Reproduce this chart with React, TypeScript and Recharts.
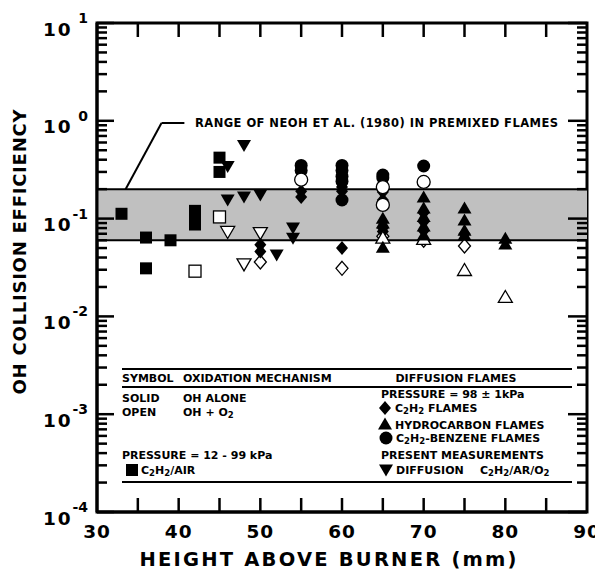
import React from "react";
import {
  ScatterChart,
  Scatter,
  XAxis,
  YAxis,
  ReferenceArea,
  ReferenceLine,
  Customized,
} from "recharts";

type Pt = [number, number];

// height above burner (mm), OH collision efficiency
// C2H2/air flames, 12 - 99 kPa
const airSolid: Pt[] = [[33, 0.112], [36, 0.064], [36, 0.031], [39, 0.06], [42, 0.12], [42, 0.1], [42, 0.087], [45, 0.42], [45, 0.3]];
const airOpen: Pt[] = [[42, 0.029], [45, 0.104]];
// present measurements, diffusion C2H2/Ar/O2
const presentSolid: Pt[] = [[46, 0.34], [46, 0.155], [48, 0.56], [48, 0.166], [50, 0.174], [52, 0.0425], [54, 0.08], [54, 0.063]];
const presentOpen: Pt[] = [[46, 0.073], [48, 0.034], [50, 0.071]];
// C2H2 diffusion flames, 98 kPa
const c2h2Solid: Pt[] = [[50, 0.054], [50, 0.046], [55, 0.19], [55, 0.166], [60, 0.21], [60, 0.19], [60, 0.05], [65, 0.187], [65, 0.155], [65, 0.08], [65, 0.074], [70, 0.115], [70, 0.093], [70, 0.075], [75, 0.07]];
const c2h2Open: Pt[] = [[50, 0.036], [60, 0.031], [65, 0.066], [70, 0.06], [75, 0.0525]];
// hydrocarbon flames
const hcSolid: Pt[] = [[65, 0.101], [65, 0.09], [65, 0.051], [70, 0.166], [70, 0.128], [70, 0.105], [70, 0.084], [70, 0.068], [75, 0.128], [75, 0.097], [75, 0.076], [75, 0.068], [80, 0.063], [80, 0.055]];
const hcOpen: Pt[] = [[65, 0.064], [70, 0.062], [75, 0.0298], [80, 0.0158]];
// C2H2-benzene flames
const benzSolid: Pt[] = [[55, 0.35], [55, 0.31], [60, 0.35], [60, 0.31], [60, 0.27], [60, 0.24], [60, 0.155], [65, 0.279], [65, 0.26], [70, 0.345]];
const benzOpen: Pt[] = [[55, 0.25], [65, 0.21], [65, 0.138], [70, 0.237]];

// Neoh et al. range in premixed flames
const neohRange: [number, number] = [0.06, 0.2];

const xDomain: [number, number] = [30, 90];
const yDomain: [number, number] = [1e-4, 10];
const xTicks = [30, 35, 40, 45, 50, 55, 60, 65, 70, 75, 80, 85, 90];
const xLabels = [30, 40, 50, 60, 70, 80, 90];
const yExponents = [-4, -3, -2, -1, 0, 1];
const yMantissas = [1, 2, 3, 4, 5, 6, 7, 8, 9];

const yTicks: number[] = [];
yExponents.forEach((e) => {
  if (e === 1) yTicks.push(10);
  else yMantissas.forEach((m) => yTicks.push(Number((m * Math.pow(10, e)).toPrecision(3))));
});

const FONT = "'DejaVu Sans', 'Liberation Sans', Arial, sans-serif";

// plot box inside the svg
const W = 595;
const H = 562;
const M = { top: 15, right: 16, left: 89, bottom: 58 };
const PLOT_W = W - M.left - M.right;
const PLOT_H = H - M.top - M.bottom;

// tick lengths given in pixels, turned into data units for the segments
const DECADES = Math.log10(yDomain[1]) - Math.log10(yDomain[0]);
const xUnits = (px: number) => (px / PLOT_W) * (xDomain[1] - xDomain[0]);
const yFactor = (px: number) => Math.pow(10, (px / PLOT_H) * DECADES);

const toRows = (pts: Pt[]) => pts.map(([x, y]) => ({ x, y }));

type Kind = "square" | "circle" | "diamond" | "up" | "down";

function Marker({ kind, open, cx, cy }: { kind: Kind; open?: boolean; cx: number; cy: number }) {
  const fill = open ? "#fff" : "#000";
  const common = { fill, stroke: "#000", strokeWidth: open ? 1.3 : 0 };
  if (kind === "square") return <rect x={cx - 6} y={cy - 6} width={12} height={12} {...common} />;
  if (kind === "circle") return <circle cx={cx} cy={cy} r={6.5} {...common} />;
  if (kind === "diamond")
    return <polygon points={`${cx},${cy - 7} ${cx + 6},${cy} ${cx},${cy + 7} ${cx - 6},${cy}`} {...common} />;
  if (kind === "up")
    return <polygon points={`${cx},${cy - 6.5} ${cx + 7},${cy + 5.5} ${cx - 7},${cy + 5.5}`} {...common} />;
  return <polygon points={`${cx - 7},${cy - 5.5} ${cx + 7},${cy - 5.5} ${cx},${cy + 6.5}`} {...common} />;
}

const shapeOf = (kind: Kind, open = false) => (p: any) =>
  <Marker kind={kind} open={open} cx={p.cx} cy={p.cy} />;

const isMajor = (v: number) => {
  const l = Math.log10(v);
  return Math.abs(l - Math.round(l)) < 1e-6;
};

const LeftTick = (p: any) => {
  const { x, y, payload } = p;
  const v = payload.value;
  if (!isMajor(v)) return <g />;
  const exp = Math.round(Math.log10(v));
  return (
    <g fontFamily={FONT} fontWeight="bold" fill="#000">
      <text x={x - 54} y={y + 6} dominantBaseline="central" fontSize={18.5} letterSpacing={2}>
        10
      </text>
      <text x={x - 9} y={y - 5} dominantBaseline="central" textAnchor="end" fontSize={14}>
        {exp}
      </text>
    </g>
  );
};

const BottomTick = (p: any) => {
  const { x, y, payload } = p;
  const v = payload.value;
  if (!xLabels.includes(v)) return <g />;
  return (
    <text x={x} y={y + 19} textAnchor="middle" dominantBaseline="central" fontFamily={FONT}
      fontWeight="bold" fontSize={18.5} letterSpacing={1} fill="#000">
      {v}
    </text>
  );
};

// inward tick marks on all four sides, as short reference segments
const tickSegments: { key: string; seg: { x: number; y: number }[] }[] = [];
yTicks.forEach((v) => {
  const major = isMajor(v);
  tickSegments.push({ key: "l" + v, seg: [{ x: xDomain[0], y: v }, { x: xDomain[0] + xUnits(major ? 17 : 10), y: v }] });
  tickSegments.push({ key: "r" + v, seg: [{ x: xDomain[1] - xUnits(major ? 19 : 10), y: v }, { x: xDomain[1], y: v }] });
});
xTicks
  .filter((v) => v > xDomain[0] && v < xDomain[1])
  .forEach((v) => {
    tickSegments.push({ key: "b" + v, seg: [{ x: v, y: yDomain[0] }, { x: v, y: yDomain[0] * yFactor(14) }] });
    tickSegments.push({ key: "t" + v, seg: [{ x: v, y: yDomain[1] / yFactor(14) }, { x: v, y: yDomain[1] }] });
  });

// chemical formulas: a digit right after a letter is set as subscript
function chem(s: string) {
  const parts: React.ReactNode[] = [];
  let buf = "";
  let lowered = false;
  for (let i = 0; i < s.length; i++) {
    const ch = s[i];
    const sub = /\d/.test(ch) && i > 0 && /[A-Z]/.test(s[i - 1]);
    if (sub) {
      if (buf) parts.push(<tspan key={i + "n"} dy={lowered ? -3 : 0}>{buf}</tspan>);
      if (buf) lowered = false;
      parts.push(<tspan key={i + "s"} dy={lowered ? 0 : 3} fontSize={8.5}>{ch}</tspan>);
      lowered = true;
      buf = "";
    } else {
      buf += ch;
    }
  }
  if (buf) parts.push(<tspan key="end" dy={lowered ? -3 : 0}>{buf}</tspan>);
  return parts;
}

const Overlay = () => (
  <g fontFamily={FONT} fontWeight="bold" fill="#000" style={{ whiteSpace: "pre" }}>
    <rect x={M.left} y={M.top} width={PLOT_W} height={PLOT_H} fill="none" stroke="#000" strokeWidth={3} />
    <text transform="translate(11,244) rotate(-90)" textAnchor="middle" dominantBaseline="central"
      fontSize={18} textLength={285} lengthAdjust="spacing">
      OH COLLISION EFFICIENCY
    </text>
    <text x={320} y={551} textAnchor="middle" dominantBaseline="central" fontSize={19.5}
      textLength={377} lengthAdjust="spacing">
      HEIGHT ABOVE BURNER (mm)
    </text>
    <text x={187} y={115} dominantBaseline="central" fontSize={11.5} textLength={363} lengthAdjust="spacing">
      RANGE OF NEOH ET AL. (1980)  IN PREMIXED FLAMES
    </text>

    {/* key box */}
    <line x1={114} x2={564} y1={361} y2={361} stroke="#000" strokeWidth={2} />
    <line x1={114} x2={564} y1={379} y2={379} stroke="#000" strokeWidth={2} />
    <line x1={114} x2={564} y1={474} y2={474} stroke="#000" strokeWidth={2} />
    <g fontSize={11} dominantBaseline="central">
      <text x={114} y={370}>SYMBOL</text>
      <text x={175} y={370}>OXIDATION MECHANISM</text>
      <text x={448} y={370} textAnchor="middle">DIFFUSION FLAMES</text>
      <text x={114} y={390}>SOLID</text>
      <text x={175} y={390}>OH ALONE</text>
      <text x={114} y={404}>OPEN</text>
      <text x={175} y={404}>{chem("OH + O2")}</text>
      <text x={114} y={447}>PRESSURE = 12 - 99 kPa</text>
      <text x={133} y={462}>{chem("C2H2/AIR")}</text>
      <text x={373} y={386}>PRESSURE = 98 ± 1kPa</text>
      <text x={387} y={400}>{chem("C2H2 FLAMES")}</text>
      <text x={387} y={417}>HYDROCARBON FLAMES</text>
      <text x={388} y={430}>{chem("C2H2-BENZENE  FLAMES")}</text>
      <text x={373} y={447}>PRESENT MEASUREMENTS</text>
      <text x={388} y={462}>DIFFUSION</text>
      <text x={472} y={462}>{chem("C2H2/AR/O2")}</text>
    </g>
    <Marker kind="square" cx={124} cy={462} />
    <Marker kind="diamond" cx={377} cy={400} />
    <Marker kind="up" cx={377} cy={416} />
    <Marker kind="circle" cx={378} cy={430} />
    <Marker kind="down" cx={378} cy={462} />
  </g>
);

const axisLine = { stroke: "#000", strokeWidth: 3 };

export default function App() {
  return (
    <ScatterChart width={W} height={H} margin={{ top: M.top, right: M.right, left: M.left - 1, bottom: M.bottom - 1 }}>
      <XAxis dataKey="x" type="number" domain={xDomain} ticks={xTicks} interval={0} height={1}
        tickSize={0} tickMargin={0} axisLine={axisLine} tickLine={false} tick={<BottomTick />} />
      <YAxis dataKey="y" type="number" scale="log" domain={yDomain} allowDataOverflow ticks={yTicks}
        interval={0} width={1} tickSize={0} tickMargin={0} axisLine={axisLine} tickLine={false} tick={<LeftTick />} />

      <ReferenceArea x1={xDomain[0]} x2={xDomain[1]} y1={neohRange[0]} y2={neohRange[1]} fill="#c0c0c0" fillOpacity={1} stroke="none" />
      <ReferenceLine y={neohRange[1]} stroke="#000" strokeWidth={2} />
      <ReferenceLine y={neohRange[0]} stroke="#000" strokeWidth={2} />
      <ReferenceLine segment={[{ x: 33.5, y: neohRange[1] }, { x: 37.9, y: 0.95 }]} stroke="#000" strokeWidth={2} />
      <ReferenceLine segment={[{ x: 37.9, y: 0.95 }, { x: 40.7, y: 0.95 }]} stroke="#000" strokeWidth={2} />
      {tickSegments.map((t) => (
        <ReferenceLine key={t.key} segment={t.seg} stroke="#000" strokeWidth={2.5} ifOverflow="visible" />
      ))}

      <Scatter data={toRows(c2h2Open)} shape={shapeOf("diamond", true)} isAnimationActive={false} />
      <Scatter data={toRows(c2h2Solid)} shape={shapeOf("diamond")} isAnimationActive={false} />
      <Scatter data={toRows(hcOpen)} shape={shapeOf("up", true)} isAnimationActive={false} />
      <Scatter data={toRows(hcSolid)} shape={shapeOf("up")} isAnimationActive={false} />
      <Scatter data={toRows(benzSolid)} shape={shapeOf("circle")} isAnimationActive={false} />
      <Scatter data={toRows(benzOpen)} shape={shapeOf("circle", true)} isAnimationActive={false} />
      <Scatter data={toRows(airOpen)} shape={shapeOf("square", true)} isAnimationActive={false} />
      <Scatter data={toRows(airSolid)} shape={shapeOf("square")} isAnimationActive={false} />
      <Scatter data={toRows(presentOpen)} shape={shapeOf("down", true)} isAnimationActive={false} />
      <Scatter data={toRows(presentSolid)} shape={shapeOf("down")} isAnimationActive={false} />

      <Customized component={<Overlay />} />
    </ScatterChart>
  );
}
